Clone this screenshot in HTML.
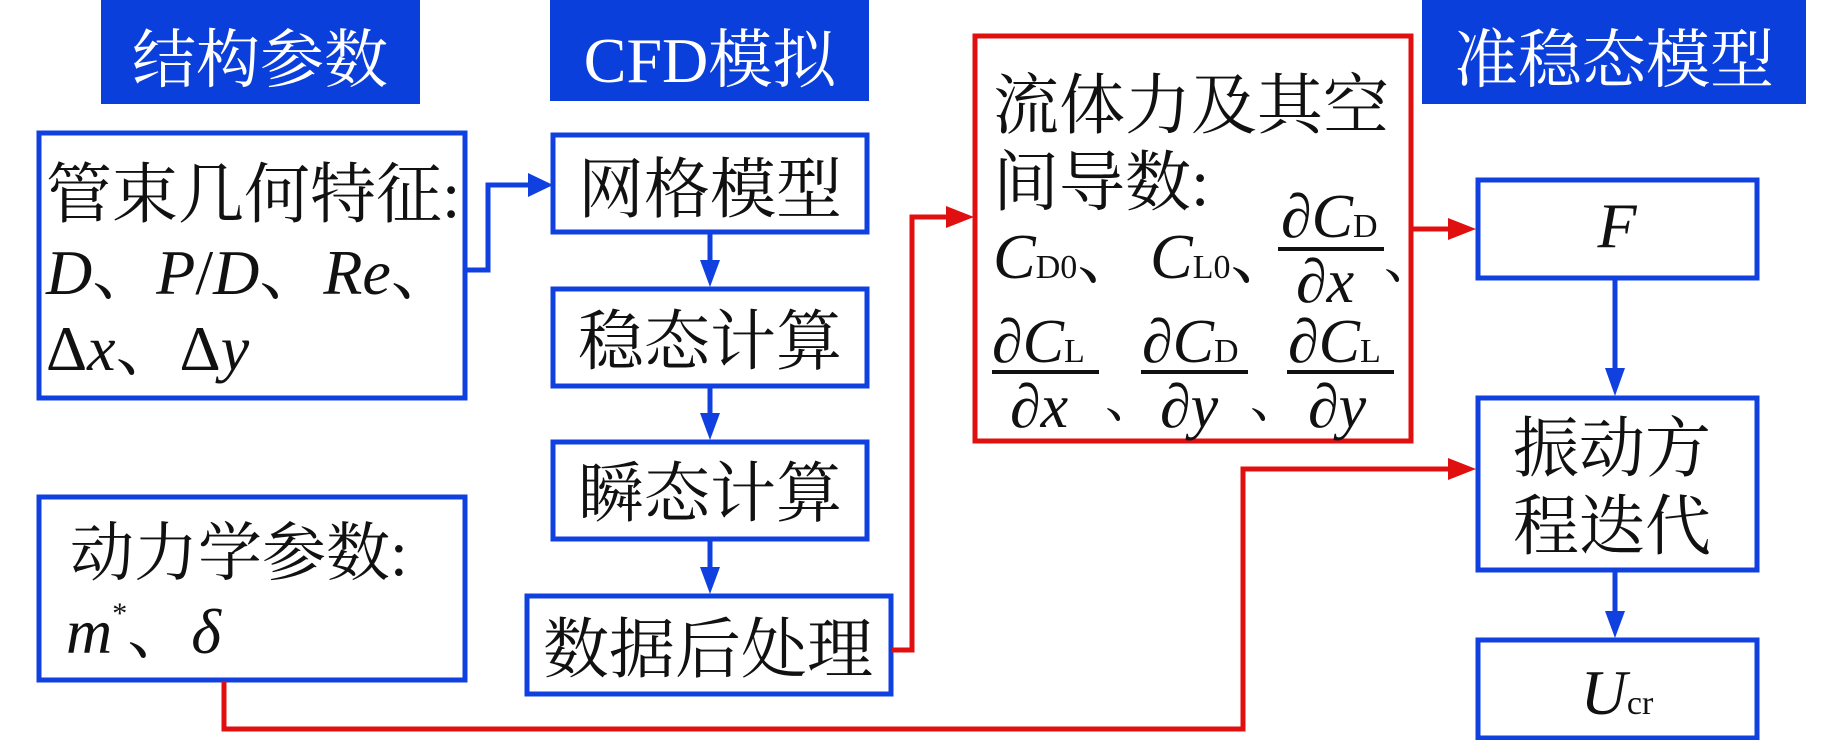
<!DOCTYPE html>
<html><head><meta charset="utf-8"><style>
html,body{margin:0;padding:0;background:#fff;}
svg{display:block}
.t{font-family:"Liberation Serif","Noto Serif CJK SC",serif;fill:#111;}
.h{font-family:"Liberation Serif","Noto Serif CJK SC",serif;fill:#fff;}
.i{font-style:italic}
</style></head><body>
<svg width="1843" height="740" viewBox="0 0 1843 740" xmlns="http://www.w3.org/2000/svg">
<!-- headers -->
<rect x="101" y="0" width="319" height="104" fill="#0b3fdc"/>
<rect x="550" y="0" width="319" height="101" fill="#0b3fdc"/>
<rect x="1422" y="0" width="384" height="104" fill="#0b3fdc"/>
<text class="h" x="260" y="82" font-size="64" text-anchor="middle">结构参数</text>
<text class="h" x="710" y="82" font-size="64" text-anchor="middle">CFD模拟</text>
<text class="h" x="1614" y="82" font-size="64" text-anchor="middle">准稳态模型</text>

<g fill="none" stroke="#1040e0" stroke-width="5">
<rect x="39" y="133" width="426" height="265"/>
<rect x="39" y="497" width="426" height="183"/>
<rect x="553" y="135" width="314" height="97"/>
<rect x="553" y="289" width="314" height="97"/>
<rect x="553" y="442" width="314" height="97"/>
<rect x="527" y="596" width="364" height="98"/>
<rect x="1478" y="180" width="279" height="98"/>
<rect x="1478" y="398" width="279" height="172"/>
<rect x="1478" y="640" width="279" height="98"/>
</g>
<rect x="975" y="36" width="436" height="405" fill="none" stroke="#e01010" stroke-width="5"/>

<g stroke="#1040e0" stroke-width="5" fill="none">
<polyline points="466,270 488,270 488,185 528,185"/>
<line x1="710" y1="234" x2="710" y2="262"/>
<line x1="710" y1="388" x2="710" y2="415"/>
<line x1="710" y1="541" x2="710" y2="568"/>
<line x1="1615" y1="280" x2="1615" y2="370"/>
<line x1="1615" y1="572" x2="1615" y2="612"/>
</g>
<g fill="#1040e0">
<path d="M528,173 L553,185 L528,197z"/>
<path d="M700,260 L710,287 L720,260z"/>
<path d="M700,413 L710,440 L720,413z"/>
<path d="M700,567 L710,594 L720,567z"/>
<path d="M1605,368 L1615,396 L1625,368z"/>
<path d="M1605,611 L1615,638 L1625,611z"/>
</g>
<g stroke="#e01010" stroke-width="5" fill="none">
<polyline points="892,650 912,650 912,217 948,217"/>
<line x1="1412" y1="229" x2="1450" y2="229"/>
<polyline points="224,681 224,729 1243,729 1243,469 1450,469"/>
</g>
<g fill="#e01010">
<path d="M946,206 L974,217 L946,228z"/>
<path d="M1448,218 L1476,229 L1448,240z"/>
<path d="M1448,458 L1476,469 L1448,480z"/>
</g>

<text class="t" x="46" y="217" font-size="66">管束几何特征:</text>
<text class="t" x="46" y="294" font-size="64"><tspan class="i">D</tspan>、<tspan class="i">P</tspan>/<tspan class="i">D</tspan>、<tspan class="i">Re</tspan>、</text>
<text class="t" x="46" y="370" font-size="64">Δ<tspan class="i">x</tspan>、Δ<tspan class="i">y</tspan></text>
<text class="t" x="70" y="575" font-size="64">动力学参数:</text>
<text class="t" x="66" y="653" font-size="64"><tspan class="i">m</tspan><tspan font-size="30" dy="-30">*</tspan><tspan dy="30">、</tspan><tspan class="i">δ</tspan></text>

<text class="t" x="710" y="212" font-size="66" text-anchor="middle">网格模型</text>
<text class="t" x="710" y="364" font-size="66" text-anchor="middle">稳态计算</text>
<text class="t" x="710" y="516" font-size="66" text-anchor="middle">瞬态计算</text>
<text class="t" x="708" y="672" font-size="66" text-anchor="middle">数据后处理</text>

<text class="t" x="993" y="128" font-size="66">流体力及其空</text>
<text class="t" x="993" y="205" font-size="66">间导数:</text>
<text class="t" x="993" y="278" font-size="64"><tspan class="i">C</tspan><tspan font-size="34">D0</tspan>、</text>
<text class="t" x="1150" y="278" font-size="64"><tspan class="i">C</tspan><tspan font-size="34">L0</tspan>、</text>
<text class="t" x="1281" y="237" font-size="62"><tspan class="i">∂C</tspan><tspan font-size="34">D</tspan></text>
<line x1="1278" y1="249" x2="1384" y2="249" stroke="#111" stroke-width="4"/>
<text class="t i" x="1296" y="302" font-size="62">∂x</text>
<text class="t" x="1384" y="278" font-size="52">、</text>

<text class="t" x="992" y="362" font-size="62"><tspan class="i">∂C</tspan><tspan font-size="34">L</tspan></text>
<line x1="992" y1="372" x2="1099" y2="372" stroke="#111" stroke-width="4"/>
<text class="t i" x="1010" y="427" font-size="62">∂x</text>
<text class="t" x="1105" y="417" font-size="52">、</text>
<text class="t" x="1142" y="362" font-size="62"><tspan class="i">∂C</tspan><tspan font-size="34">D</tspan></text>
<line x1="1141" y1="372" x2="1248" y2="372" stroke="#111" stroke-width="4"/>
<text class="t i" x="1160" y="427" font-size="62">∂y</text>
<text class="t" x="1250" y="417" font-size="52">、</text>
<text class="t" x="1288" y="362" font-size="62"><tspan class="i">∂C</tspan><tspan font-size="34">L</tspan></text>
<line x1="1287" y1="372" x2="1394" y2="372" stroke="#111" stroke-width="4"/>
<text class="t i" x="1308" y="427" font-size="62">∂y</text>

<text class="t i" x="1617" y="247" font-size="64" text-anchor="middle">F</text>
<text class="t" x="1612" y="471" font-size="66" text-anchor="middle">振动方</text>
<text class="t" x="1612" y="549" font-size="66" text-anchor="middle">程迭代</text>
<text class="t" x="1617" y="714" font-size="64" text-anchor="middle"><tspan class="i">U</tspan><tspan font-size="34">cr</tspan></text>
</svg>
</body></html>
